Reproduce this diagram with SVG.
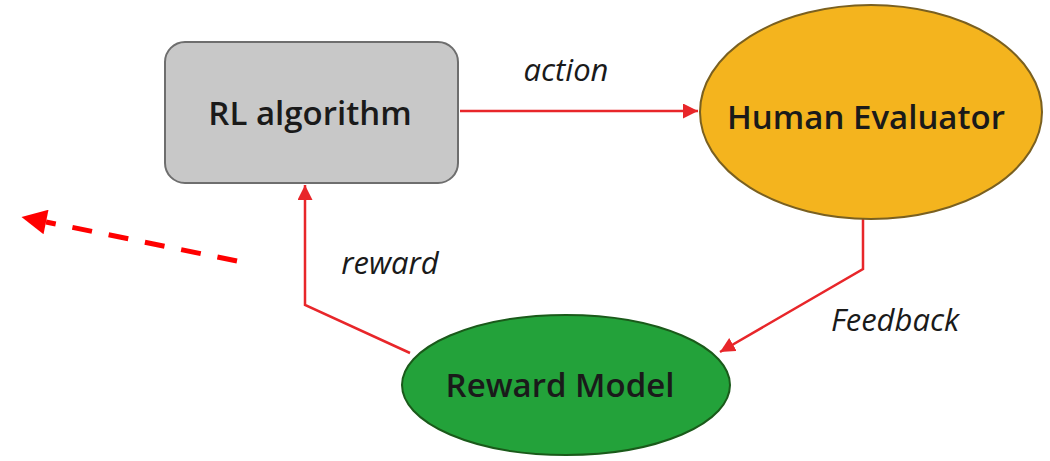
<svg xmlns="http://www.w3.org/2000/svg" width="1050" height="461" viewBox="0 0 1050 461">
  <defs>
    <style>
      .label { font-family: "Open Sans", "Liberation Sans", sans-serif; font-size: 33px; font-weight: 600; fill: #1a1a1a; text-anchor: middle; dominant-baseline: central; }
      .elabel { font-family: "Open Sans", "Liberation Sans", sans-serif; font-size: 31px; font-style: italic; fill: #1a1a1a; text-anchor: middle; }
      .conn { fill: none; stroke: #e8262a; stroke-width: 2.5; stroke-linejoin: miter; }
    </style>
    <marker id="arr" viewBox="0 0 10 10" refX="10" refY="5" markerWidth="6" markerHeight="6" markerUnits="strokeWidth" orient="auto">
      <path d="M0,0 L10,5 L0,10 z" fill="#e8262a"/>
    </marker>
    <marker id="arrbig" viewBox="0 0 10 10" refX="0" refY="5" markerWidth="5.2" markerHeight="5" markerUnits="strokeWidth" orient="auto">
      <path d="M0,0 L10,5 L0,10 z" fill="#ff0000"/>
    </marker>
  </defs>

  <rect width="1050" height="461" fill="#ffffff"/>

  <g id="connectors">
    <path class="conn" d="M460,111 L698,111" marker-end="url(#arr)"/>
    <path class="conn" d="M863,219 L863,269 L720,352" marker-end="url(#arr)"/>
    <path class="conn" d="M410,353 L305,305 L305,185" marker-end="url(#arr)"/>
    <path d="M237,261 L46,222" fill="none" stroke="#ff0000" stroke-width="5" stroke-dasharray="20,17" marker-end="url(#arrbig)"/>
    <text class="elabel" x="566" y="81">action</text>
    <text class="elabel" x="895" y="331">Feedback</text>
    <text class="elabel" x="390" y="274">reward</text>
  </g>

  <g id="rl-algorithm">
    <rect x="165" y="42" width="293" height="141" rx="20" ry="20" fill="#c8c8c8" stroke="#6e6e6e" stroke-width="2"/>
    <text class="label" x="310" y="112">RL algorithm</text>
  </g>

  <g id="human-evaluator">
    <ellipse cx="871" cy="112" rx="171" ry="107" fill="#f4b41e" stroke="#7a6020" stroke-width="2"/>
    <text class="label" x="866" y="116">Human Evaluator</text>
  </g>

  <g id="reward-model">
    <ellipse cx="566" cy="385" rx="164" ry="70" fill="#23a23a" stroke="#1a5a1a" stroke-width="2"/>
    <text class="label" x="560" y="384">Reward Model</text>
  </g>
</svg>
